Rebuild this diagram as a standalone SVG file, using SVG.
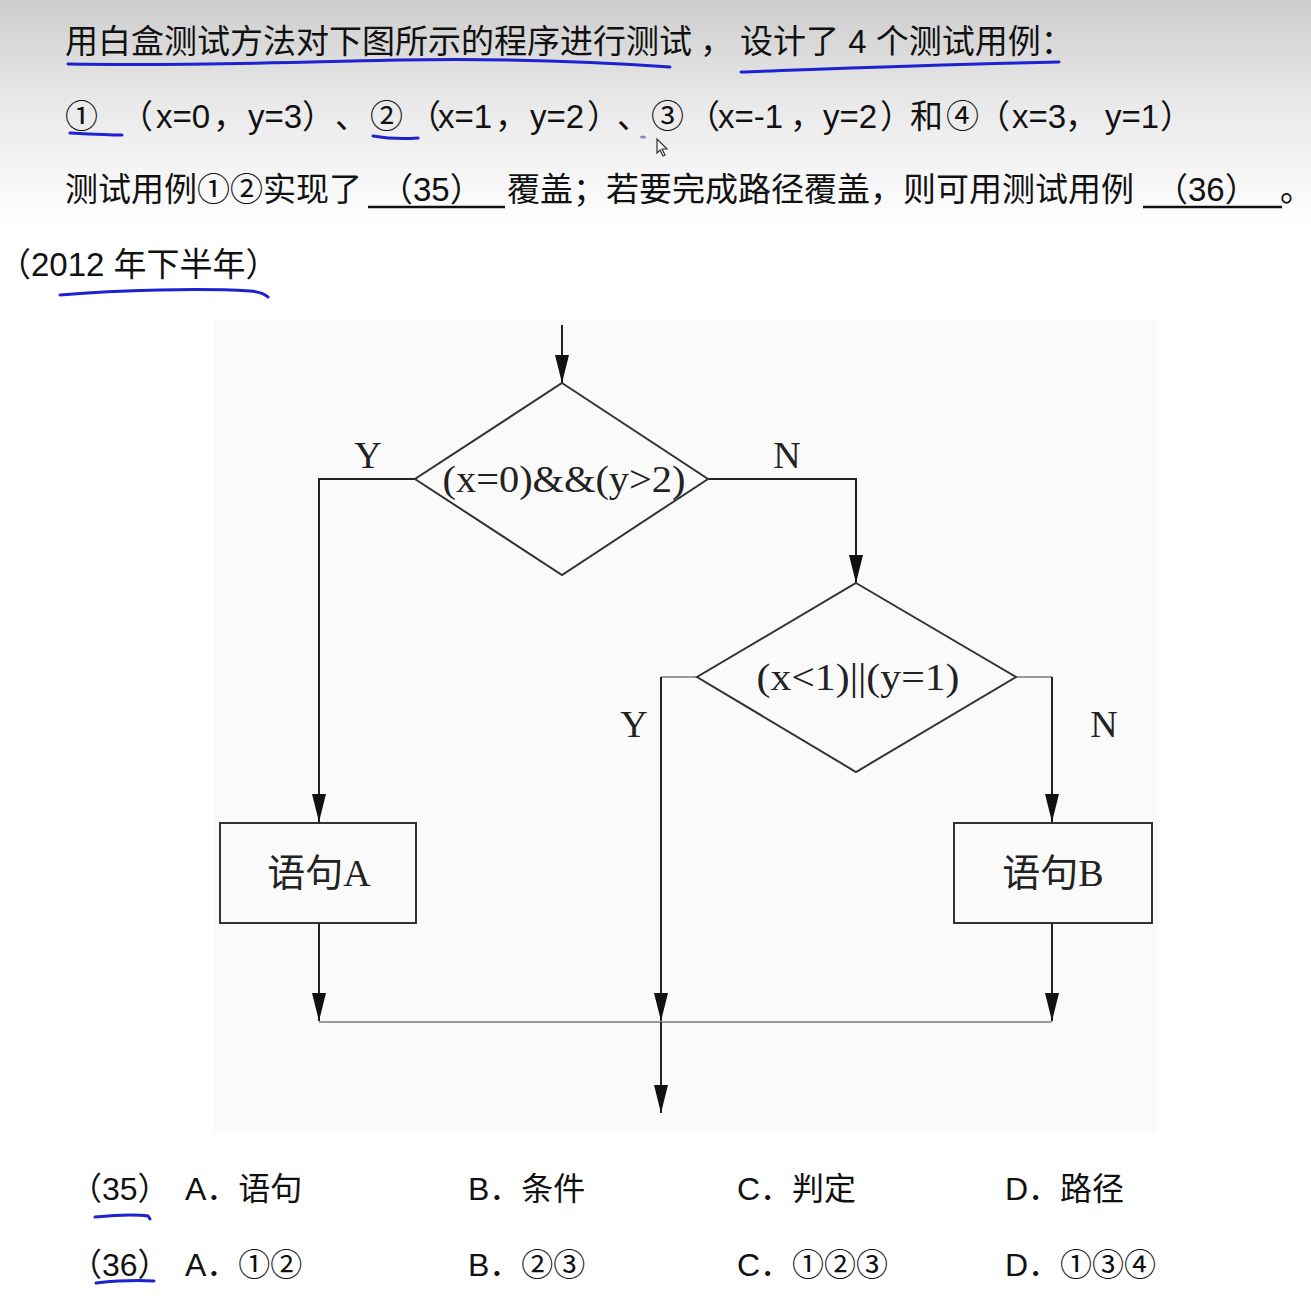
<svg xmlns="http://www.w3.org/2000/svg" width="1311" height="1306" viewBox="0 0 1311 1306">
<defs>
  <linearGradient id="topfade" x1="0" y1="0" x2="0" y2="1">
    <stop offset="0" stop-color="#cdcdcd"/>
    <stop offset="0.45" stop-color="#e9e9e9"/>
    <stop offset="1" stop-color="#ffffff"/>
  </linearGradient>
  <marker id="arr" viewBox="0 0 28 14" refX="28" refY="7" markerWidth="28" markerHeight="14" markerUnits="userSpaceOnUse" orient="auto">
    <path d="M0,0 L28,7 L0,14 z" fill="#111"/>
  </marker>
  <style>
    .q { font-family: "Liberation Sans", "Noto Sans CJK SC", sans-serif; font-size: 33px; fill: #111; }
    .o { font-family: "Liberation Sans", "Noto Sans CJK SC", sans-serif; font-size: 32px; fill: #111; }
    .d { font-family: "Liberation Serif", "Noto Sans CJK SC", serif; font-size: 38px; fill: #222; }
    .ink { fill: none; stroke: #1c22d0; stroke-width: 3; stroke-linecap: round; }
    .blank { stroke: #111; stroke-width: 2.5; }
    .ln { fill: none; stroke: #222; stroke-width: 2; }
    .lg { fill: none; stroke: #999; stroke-width: 2; }
    .shape { fill: none; stroke: #333; stroke-width: 2; }
  </style>
</defs>

<rect x="0" y="0" width="1311" height="1306" fill="#ffffff"/>
<rect x="0" y="0" width="1311" height="230" fill="url(#topfade)"/>
<rect x="214" y="320" width="944" height="813" fill="#fafafa"/>

<g id="question">
  <text class="q" y="53"><tspan x="65">用白盒测试方法对下图所示的程序进行测试</tspan><tspan x="700">，</tspan><tspan x="740">设计了 4 个测试用例：</tspan></text>
  <text class="q" y="128"><tspan x="65">①</tspan><tspan x="120">（</tspan><tspan x="156">x=0</tspan><tspan x="213">，</tspan><tspan x="248">y=3</tspan><tspan x="302">）</tspan><tspan x="335">、</tspan><tspan x="370">②</tspan><tspan x="408">（</tspan><tspan x="438">x=1</tspan><tspan x="495">，</tspan><tspan x="530">y=2</tspan><tspan x="587">）</tspan><tspan x="617">、</tspan><tspan x="651">③</tspan><tspan x="687">（</tspan><tspan x="718">x=-1</tspan><tspan x="790">，</tspan><tspan x="823">y=2</tspan><tspan x="880">）</tspan><tspan x="910">和</tspan><tspan x="946">④</tspan><tspan x="977">（</tspan><tspan x="1012">x=3</tspan><tspan x="1065">，</tspan><tspan x="1105">y=1</tspan><tspan x="1160">）</tspan></text>
  <text class="q" x="65" y="201">测试用例①②实现了</text>
  <line class="blank" x1="368" y1="207" x2="505" y2="207"/>
  <text class="q" x="380" y="201">（35）</text>
  <text class="q" x="507" y="201">覆盖；若要完成路径覆盖，则可用测试用例</text>
  <line class="blank" x1="1143" y1="207" x2="1282" y2="207"/>
  <text class="q" x="1155" y="201">（36）</text>
  <text class="q" x="1280" y="201">。</text>
  <text class="q" x="-2" y="276">（2012 年下半年）</text>
</g>

<g id="annotations">
  <path class="ink" d="M68,64 C200,66 300,62 400,60 C520,58 600,62 670,67"/>
  <path class="ink" d="M741,72 C850,68 950,64 1059,62"/>
  <path class="ink" d="M70,133 C90,134 110,135 122,135"/>
  <path class="ink" d="M373,136 C390,139 405,139 418,138"/>
  <path class="ink" d="M60,295 C120,290 200,288 250,291 C262,292 266,295 268,297"/>
  <path class="ink" d="M95,1217 C115,1215 135,1214 148,1216 L150,1219"/>
  <path class="ink" d="M96,1283 C115,1281 135,1280 154,1281"/>
  <ellipse cx="643" cy="137" rx="3" ry="1.5" fill="#8a8ad8"/>
  <polygon points="657,139 657,153 660,150 663,156 665,155 662,149 667,149" fill="#ffffff" stroke="#333" stroke-width="1.2"/>
</g>

<g id="connectors">
  <path class="ln" d="M562,325 V383" marker-end="url(#arr)"/>
  <path class="ln" d="M415,479 H319 V822" marker-end="url(#arr)"/>
  <path class="ln" d="M708,479 H856 V583" marker-end="url(#arr)"/>
  <path class="lg" d="M697,677 H661"/>
  <path class="ln" d="M661,677 V1021" marker-end="url(#arr)"/>
  <path class="lg" d="M1016,677 H1052"/>
  <path class="ln" d="M1052,677 V822" marker-end="url(#arr)"/>
  <path class="ln" d="M319,923 V1021" marker-end="url(#arr)"/>
  <path class="ln" d="M1052,923 V1021" marker-end="url(#arr)"/>
  <path class="lg" d="M319,1022 H1052"/>
  <path class="ln" d="M661,1022 V1113" marker-end="url(#arr)"/>
  <text class="d" x="368" y="468" text-anchor="middle">Y</text>
  <text class="d" x="787" y="468" text-anchor="middle">N</text>
  <text class="d" x="634" y="737" text-anchor="middle">Y</text>
  <text class="d" x="1104" y="737" text-anchor="middle">N</text>
</g>

<g id="decision1">
  <polygon class="shape" points="562,383 708,479 562,575 415,479"/>
  <text class="d" x="564" y="492" text-anchor="middle" textLength="243" lengthAdjust="spacingAndGlyphs">(x=0)&amp;&amp;(y&gt;2)</text>
</g>

<g id="decision2">
  <polygon class="shape" points="856,583 1016,677 856,772 697,677"/>
  <text class="d" x="858" y="690" text-anchor="middle" textLength="203" lengthAdjust="spacingAndGlyphs">(x&lt;1)||(y=1)</text>
</g>

<g id="stmtA">
  <rect class="shape" x="220" y="823" width="196" height="100"/>
  <text class="d" x="319" y="886" text-anchor="middle">语句A</text>
</g>

<g id="stmtB">
  <rect class="shape" x="954" y="823" width="198" height="100"/>
  <text class="d" x="1053" y="886" text-anchor="middle">语句B</text>
</g>

<g id="options">
  <text class="o" x="70" y="1200">（35）</text>
  <text class="o" x="185" y="1200">A．语句</text>
  <text class="o" x="468" y="1200">B．条件</text>
  <text class="o" x="737" y="1200">C．判定</text>
  <text class="o" x="1005" y="1200">D．路径</text>
  <text class="o" x="70" y="1276">（36）</text>
  <text class="o" x="185" y="1276">A．①②</text>
  <text class="o" x="468" y="1276">B．②③</text>
  <text class="o" x="737" y="1276">C．①②③</text>
  <text class="o" x="1005" y="1276">D．①③④</text>
</g>
</svg>
